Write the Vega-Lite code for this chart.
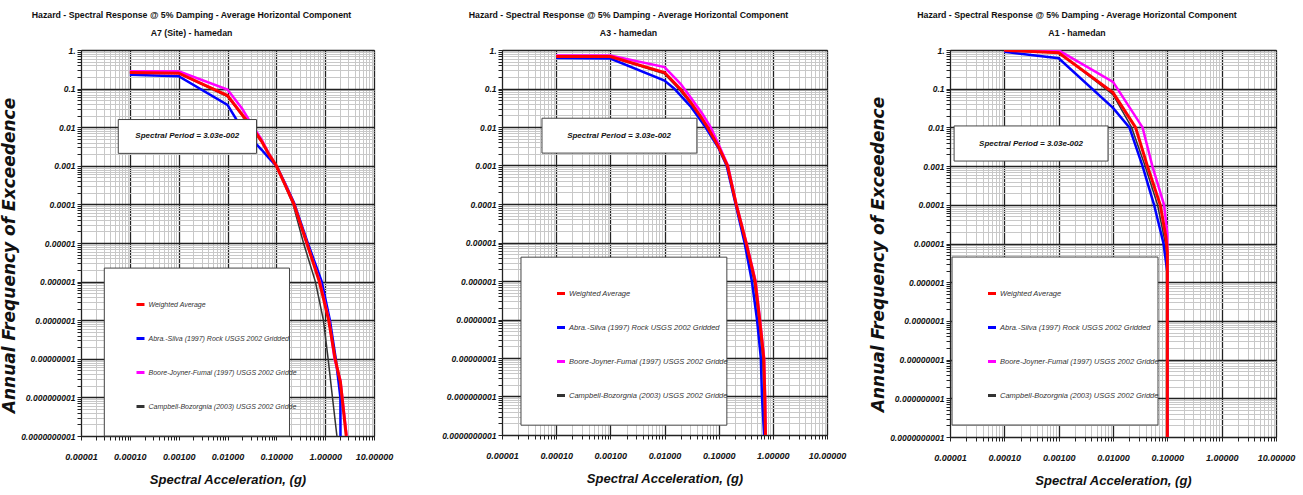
{
"$schema": "https://vega.github.io/schema/vega-lite/v6.json",
"autosize": {"type": "pad"},
"padding": {"left": 0, "top": 10, "right": 0, "bottom": 0},
"background": "white",
"config": {
  "view": {"stroke": "#222", "strokeWidth": 1},
  "axis": {"labelFont": "Liberation Sans", "labelFontSize": 9, "labelFontStyle": "italic", "labelFontWeight": "bold", "labelColor": "#111", "tickColor": "#222", "domainColor": "#222", "tickSize": 4, "labelOverlap": false, "labelFlush": false, "titleColor": "#111"},
  "axisY": {"labelFontSize": 8.5},
  "title": {"font": "Liberation Sans", "fontSize": 8.75, "fontWeight": "bold", "color": "#111", "lineHeight": 18, "offset": 8, "frame": "group", "anchor": "middle", "dx": -36},
  "legend": {"padding": 0, "rowPadding": 21, "symbolType": "stroke", "symbolSize": 64, "symbolStrokeWidth": 3, "symbolOffset": 0, "labelOffset": 2.5, "labelFont": "Liberation Sans", "labelFontSize": 7.5, "labelFontStyle": "italic", "labelColor": "#333", "labelLimit": 300}
},
"datasets": {
  "a7": [
    {"series": "Campbell-Bozorgnia (2003) USGS 2002 Gridded", "sa": 0.0001, "freq": 0.26},
    {"series": "Campbell-Bozorgnia (2003) USGS 2002 Gridded", "sa": 0.001, "freq": 0.25},
    {"series": "Campbell-Bozorgnia (2003) USGS 2002 Gridded", "sa": 0.01, "freq": 0.062},
    {"series": "Campbell-Bozorgnia (2003) USGS 2002 Gridded", "sa": 0.02, "freq": 0.02},
    {"series": "Campbell-Bozorgnia (2003) USGS 2002 Gridded", "sa": 0.03, "freq": 0.01},
    {"series": "Campbell-Bozorgnia (2003) USGS 2002 Gridded", "sa": 0.05, "freq": 0.0042},
    {"series": "Campbell-Bozorgnia (2003) USGS 2002 Gridded", "sa": 0.07, "freq": 0.002},
    {"series": "Campbell-Bozorgnia (2003) USGS 2002 Gridded", "sa": 0.1, "freq": 0.001},
    {"series": "Campbell-Bozorgnia (2003) USGS 2002 Gridded", "sa": 0.15, "freq": 0.0003},
    {"series": "Campbell-Bozorgnia (2003) USGS 2002 Gridded", "sa": 0.22, "freq": 0.0001},
    {"series": "Campbell-Bozorgnia (2003) USGS 2002 Gridded", "sa": 0.36, "freq": 1e-5},
    {"series": "Campbell-Bozorgnia (2003) USGS 2002 Gridded", "sa": 0.63, "freq": 1e-6},
    {"series": "Campbell-Bozorgnia (2003) USGS 2002 Gridded", "sa": 0.92, "freq": 1e-7},
    {"series": "Campbell-Bozorgnia (2003) USGS 2002 Gridded", "sa": 1.15, "freq": 1e-8},
    {"series": "Campbell-Bozorgnia (2003) USGS 2002 Gridded", "sa": 1.41, "freq": 1e-9},
    {"series": "Campbell-Bozorgnia (2003) USGS 2002 Gridded", "sa": 1.74, "freq": 1e-10},
    {"series": "Abra.-Silva (1997) Rock USGS 2002 Gridded", "sa": 0.0001, "freq": 0.23},
    {"series": "Abra.-Silva (1997) Rock USGS 2002 Gridded", "sa": 0.001, "freq": 0.21},
    {"series": "Abra.-Silva (1997) Rock USGS 2002 Gridded", "sa": 0.01, "freq": 0.038},
    {"series": "Abra.-Silva (1997) Rock USGS 2002 Gridded", "sa": 0.019, "freq": 0.01},
    {"series": "Abra.-Silva (1997) Rock USGS 2002 Gridded", "sa": 0.03, "freq": 0.0052},
    {"series": "Abra.-Silva (1997) Rock USGS 2002 Gridded", "sa": 0.05, "freq": 0.0026},
    {"series": "Abra.-Silva (1997) Rock USGS 2002 Gridded", "sa": 0.07, "freq": 0.0016},
    {"series": "Abra.-Silva (1997) Rock USGS 2002 Gridded", "sa": 0.1, "freq": 0.001},
    {"series": "Abra.-Silva (1997) Rock USGS 2002 Gridded", "sa": 0.15, "freq": 0.00036},
    {"series": "Abra.-Silva (1997) Rock USGS 2002 Gridded", "sa": 0.23, "freq": 0.00011},
    {"series": "Abra.-Silva (1997) Rock USGS 2002 Gridded", "sa": 0.44, "freq": 1e-5},
    {"series": "Abra.-Silva (1997) Rock USGS 2002 Gridded", "sa": 0.85, "freq": 1e-6},
    {"series": "Abra.-Silva (1997) Rock USGS 2002 Gridded", "sa": 1.25, "freq": 1e-7},
    {"series": "Abra.-Silva (1997) Rock USGS 2002 Gridded", "sa": 1.65, "freq": 1e-8},
    {"series": "Abra.-Silva (1997) Rock USGS 2002 Gridded", "sa": 2.05, "freq": 1e-9},
    {"series": "Abra.-Silva (1997) Rock USGS 2002 Gridded", "sa": 2.06, "freq": 1e-10},
    {"series": "Boore-Joyner-Fumal (1997) USGS 2002 Gridded", "sa": 0.0001, "freq": 0.28},
    {"series": "Boore-Joyner-Fumal (1997) USGS 2002 Gridded", "sa": 0.001, "freq": 0.28},
    {"series": "Boore-Joyner-Fumal (1997) USGS 2002 Gridded", "sa": 0.01, "freq": 0.095},
    {"series": "Boore-Joyner-Fumal (1997) USGS 2002 Gridded", "sa": 0.02, "freq": 0.03},
    {"series": "Boore-Joyner-Fumal (1997) USGS 2002 Gridded", "sa": 0.03, "freq": 0.013},
    {"series": "Boore-Joyner-Fumal (1997) USGS 2002 Gridded", "sa": 0.05, "freq": 0.0048},
    {"series": "Boore-Joyner-Fumal (1997) USGS 2002 Gridded", "sa": 0.07, "freq": 0.0021},
    {"series": "Boore-Joyner-Fumal (1997) USGS 2002 Gridded", "sa": 0.1, "freq": 0.001},
    {"series": "Boore-Joyner-Fumal (1997) USGS 2002 Gridded", "sa": 0.15, "freq": 0.00034},
    {"series": "Boore-Joyner-Fumal (1997) USGS 2002 Gridded", "sa": 0.23, "freq": 0.0001},
    {"series": "Boore-Joyner-Fumal (1997) USGS 2002 Gridded", "sa": 0.42, "freq": 1e-5},
    {"series": "Boore-Joyner-Fumal (1997) USGS 2002 Gridded", "sa": 0.78, "freq": 1e-6},
    {"series": "Boore-Joyner-Fumal (1997) USGS 2002 Gridded", "sa": 1.2, "freq": 1e-7},
    {"series": "Boore-Joyner-Fumal (1997) USGS 2002 Gridded", "sa": 1.55, "freq": 1e-8},
    {"series": "Boore-Joyner-Fumal (1997) USGS 2002 Gridded", "sa": 2.05, "freq": 2.8e-9},
    {"series": "Boore-Joyner-Fumal (1997) USGS 2002 Gridded", "sa": 2.75, "freq": 1e-10},
    {"series": "Weighted Average", "sa": 0.0001, "freq": 0.26},
    {"series": "Weighted Average", "sa": 0.001, "freq": 0.25},
    {"series": "Weighted Average", "sa": 0.01, "freq": 0.066},
    {"series": "Weighted Average", "sa": 0.02, "freq": 0.021},
    {"series": "Weighted Average", "sa": 0.03, "freq": 0.011},
    {"series": "Weighted Average", "sa": 0.05, "freq": 0.0043},
    {"series": "Weighted Average", "sa": 0.07, "freq": 0.002},
    {"series": "Weighted Average", "sa": 0.1, "freq": 0.001},
    {"series": "Weighted Average", "sa": 0.15, "freq": 0.00033},
    {"series": "Weighted Average", "sa": 0.23, "freq": 0.0001},
    {"series": "Weighted Average", "sa": 0.42, "freq": 1e-5},
    {"series": "Weighted Average", "sa": 0.76, "freq": 1e-6},
    {"series": "Weighted Average", "sa": 1.18, "freq": 1e-7},
    {"series": "Weighted Average", "sa": 1.6, "freq": 1e-8},
    {"series": "Weighted Average", "sa": 2.05, "freq": 2.5e-9},
    {"series": "Weighted Average", "sa": 2.7, "freq": 1e-10}
  ],
  "a3": [
    {"series": "Campbell-Bozorgnia (2003) USGS 2002 Gridded", "sa": 0.0001, "freq": 0.68},
    {"series": "Campbell-Bozorgnia (2003) USGS 2002 Gridded", "sa": 0.001, "freq": 0.67},
    {"series": "Campbell-Bozorgnia (2003) USGS 2002 Gridded", "sa": 0.01, "freq": 0.24},
    {"series": "Campbell-Bozorgnia (2003) USGS 2002 Gridded", "sa": 0.018, "freq": 0.1},
    {"series": "Campbell-Bozorgnia (2003) USGS 2002 Gridded", "sa": 0.03, "freq": 0.042},
    {"series": "Campbell-Bozorgnia (2003) USGS 2002 Gridded", "sa": 0.06, "freq": 0.01},
    {"series": "Campbell-Bozorgnia (2003) USGS 2002 Gridded", "sa": 0.1, "freq": 0.003},
    {"series": "Campbell-Bozorgnia (2003) USGS 2002 Gridded", "sa": 0.142, "freq": 0.001},
    {"series": "Campbell-Bozorgnia (2003) USGS 2002 Gridded", "sa": 0.207, "freq": 0.0001},
    {"series": "Campbell-Bozorgnia (2003) USGS 2002 Gridded", "sa": 0.31, "freq": 1e-5},
    {"series": "Campbell-Bozorgnia (2003) USGS 2002 Gridded", "sa": 0.45, "freq": 1e-6},
    {"series": "Campbell-Bozorgnia (2003) USGS 2002 Gridded", "sa": 0.55, "freq": 1e-7},
    {"series": "Campbell-Bozorgnia (2003) USGS 2002 Gridded", "sa": 0.65, "freq": 1e-8},
    {"series": "Campbell-Bozorgnia (2003) USGS 2002 Gridded", "sa": 0.69, "freq": 1e-9},
    {"series": "Campbell-Bozorgnia (2003) USGS 2002 Gridded", "sa": 0.71, "freq": 1e-10},
    {"series": "Abra.-Silva (1997) Rock USGS 2002 Gridded", "sa": 0.0001, "freq": 0.62},
    {"series": "Abra.-Silva (1997) Rock USGS 2002 Gridded", "sa": 0.001, "freq": 0.6},
    {"series": "Abra.-Silva (1997) Rock USGS 2002 Gridded", "sa": 0.01, "freq": 0.16},
    {"series": "Abra.-Silva (1997) Rock USGS 2002 Gridded", "sa": 0.015, "freq": 0.1},
    {"series": "Abra.-Silva (1997) Rock USGS 2002 Gridded", "sa": 0.03, "freq": 0.035},
    {"series": "Abra.-Silva (1997) Rock USGS 2002 Gridded", "sa": 0.057, "freq": 0.01},
    {"series": "Abra.-Silva (1997) Rock USGS 2002 Gridded", "sa": 0.1, "freq": 0.0028},
    {"series": "Abra.-Silva (1997) Rock USGS 2002 Gridded", "sa": 0.14, "freq": 0.001},
    {"series": "Abra.-Silva (1997) Rock USGS 2002 Gridded", "sa": 0.205, "freq": 0.0001},
    {"series": "Abra.-Silva (1997) Rock USGS 2002 Gridded", "sa": 0.3, "freq": 1e-5},
    {"series": "Abra.-Silva (1997) Rock USGS 2002 Gridded", "sa": 0.41, "freq": 1e-6},
    {"series": "Abra.-Silva (1997) Rock USGS 2002 Gridded", "sa": 0.51, "freq": 1e-7},
    {"series": "Abra.-Silva (1997) Rock USGS 2002 Gridded", "sa": 0.6, "freq": 1e-8},
    {"series": "Abra.-Silva (1997) Rock USGS 2002 Gridded", "sa": 0.63, "freq": 1e-9},
    {"series": "Abra.-Silva (1997) Rock USGS 2002 Gridded", "sa": 0.69, "freq": 1e-10},
    {"series": "Boore-Joyner-Fumal (1997) USGS 2002 Gridded", "sa": 0.0001, "freq": 0.72},
    {"series": "Boore-Joyner-Fumal (1997) USGS 2002 Gridded", "sa": 0.001, "freq": 0.72},
    {"series": "Boore-Joyner-Fumal (1997) USGS 2002 Gridded", "sa": 0.01, "freq": 0.36},
    {"series": "Boore-Joyner-Fumal (1997) USGS 2002 Gridded", "sa": 0.02, "freq": 0.13},
    {"series": "Boore-Joyner-Fumal (1997) USGS 2002 Gridded", "sa": 0.03, "freq": 0.06},
    {"series": "Boore-Joyner-Fumal (1997) USGS 2002 Gridded", "sa": 0.05, "freq": 0.022},
    {"series": "Boore-Joyner-Fumal (1997) USGS 2002 Gridded", "sa": 0.071, "freq": 0.01},
    {"series": "Boore-Joyner-Fumal (1997) USGS 2002 Gridded", "sa": 0.1, "freq": 0.0035},
    {"series": "Boore-Joyner-Fumal (1997) USGS 2002 Gridded", "sa": 0.148, "freq": 0.001},
    {"series": "Boore-Joyner-Fumal (1997) USGS 2002 Gridded", "sa": 0.212, "freq": 0.0001},
    {"series": "Boore-Joyner-Fumal (1997) USGS 2002 Gridded", "sa": 0.325, "freq": 1e-5},
    {"series": "Boore-Joyner-Fumal (1997) USGS 2002 Gridded", "sa": 0.48, "freq": 1e-6},
    {"series": "Boore-Joyner-Fumal (1997) USGS 2002 Gridded", "sa": 0.58, "freq": 1e-7},
    {"series": "Boore-Joyner-Fumal (1997) USGS 2002 Gridded", "sa": 0.69, "freq": 1e-8},
    {"series": "Boore-Joyner-Fumal (1997) USGS 2002 Gridded", "sa": 0.72, "freq": 1e-9},
    {"series": "Boore-Joyner-Fumal (1997) USGS 2002 Gridded", "sa": 0.74, "freq": 1e-10},
    {"series": "Weighted Average", "sa": 0.0001, "freq": 0.68},
    {"series": "Weighted Average", "sa": 0.001, "freq": 0.68},
    {"series": "Weighted Average", "sa": 0.01, "freq": 0.26},
    {"series": "Weighted Average", "sa": 0.02, "freq": 0.095},
    {"series": "Weighted Average", "sa": 0.03, "freq": 0.045},
    {"series": "Weighted Average", "sa": 0.045, "freq": 0.02},
    {"series": "Weighted Average", "sa": 0.062, "freq": 0.01},
    {"series": "Weighted Average", "sa": 0.1, "freq": 0.003},
    {"series": "Weighted Average", "sa": 0.145, "freq": 0.001},
    {"series": "Weighted Average", "sa": 0.21, "freq": 0.0001},
    {"series": "Weighted Average", "sa": 0.32, "freq": 1e-5},
    {"series": "Weighted Average", "sa": 0.47, "freq": 1e-6},
    {"series": "Weighted Average", "sa": 0.57, "freq": 1e-7},
    {"series": "Weighted Average", "sa": 0.68, "freq": 1e-8},
    {"series": "Weighted Average", "sa": 0.71, "freq": 1e-9},
    {"series": "Weighted Average", "sa": 0.73, "freq": 1e-10}
  ],
  "a1": [
    {"series": "Campbell-Bozorgnia (2003) USGS 2002 Gridded", "sa": 0.0001, "freq": 0.95},
    {"series": "Campbell-Bozorgnia (2003) USGS 2002 Gridded", "sa": 0.001, "freq": 0.88},
    {"series": "Campbell-Bozorgnia (2003) USGS 2002 Gridded", "sa": 0.01, "freq": 0.07},
    {"series": "Campbell-Bozorgnia (2003) USGS 2002 Gridded", "sa": 0.022, "freq": 0.01},
    {"series": "Campbell-Bozorgnia (2003) USGS 2002 Gridded", "sa": 0.039, "freq": 0.001},
    {"series": "Campbell-Bozorgnia (2003) USGS 2002 Gridded", "sa": 0.066, "freq": 0.0001},
    {"series": "Campbell-Bozorgnia (2003) USGS 2002 Gridded", "sa": 0.092, "freq": 1e-5},
    {"series": "Campbell-Bozorgnia (2003) USGS 2002 Gridded", "sa": 0.1, "freq": 4e-6},
    {"series": "Campbell-Bozorgnia (2003) USGS 2002 Gridded", "sa": 0.1, "freq": 1e-10},
    {"series": "Abra.-Silva (1997) Rock USGS 2002 Gridded", "sa": 0.0001, "freq": 0.9},
    {"series": "Abra.-Silva (1997) Rock USGS 2002 Gridded", "sa": 0.001, "freq": 0.61},
    {"series": "Abra.-Silva (1997) Rock USGS 2002 Gridded", "sa": 0.01, "freq": 0.032},
    {"series": "Abra.-Silva (1997) Rock USGS 2002 Gridded", "sa": 0.02, "freq": 0.01},
    {"series": "Abra.-Silva (1997) Rock USGS 2002 Gridded", "sa": 0.035, "freq": 0.001},
    {"series": "Abra.-Silva (1997) Rock USGS 2002 Gridded", "sa": 0.057, "freq": 0.0001},
    {"series": "Abra.-Silva (1997) Rock USGS 2002 Gridded", "sa": 0.085, "freq": 1e-5},
    {"series": "Abra.-Silva (1997) Rock USGS 2002 Gridded", "sa": 0.1, "freq": 1.8e-6},
    {"series": "Abra.-Silva (1997) Rock USGS 2002 Gridded", "sa": 0.1, "freq": 1e-10},
    {"series": "Boore-Joyner-Fumal (1997) USGS 2002 Gridded", "sa": 0.0001, "freq": 1.0},
    {"series": "Boore-Joyner-Fumal (1997) USGS 2002 Gridded", "sa": 0.001, "freq": 0.98},
    {"series": "Boore-Joyner-Fumal (1997) USGS 2002 Gridded", "sa": 0.01, "freq": 0.15},
    {"series": "Boore-Joyner-Fumal (1997) USGS 2002 Gridded", "sa": 0.035, "freq": 0.01},
    {"series": "Boore-Joyner-Fumal (1997) USGS 2002 Gridded", "sa": 0.053, "freq": 0.001},
    {"series": "Boore-Joyner-Fumal (1997) USGS 2002 Gridded", "sa": 0.087, "freq": 0.0001},
    {"series": "Boore-Joyner-Fumal (1997) USGS 2002 Gridded", "sa": 0.1, "freq": 1.8e-5},
    {"series": "Boore-Joyner-Fumal (1997) USGS 2002 Gridded", "sa": 0.1, "freq": 1e-10},
    {"series": "Weighted Average", "sa": 0.0001, "freq": 0.98},
    {"series": "Weighted Average", "sa": 0.001, "freq": 0.85},
    {"series": "Weighted Average", "sa": 0.01, "freq": 0.079},
    {"series": "Weighted Average", "sa": 0.026, "freq": 0.01},
    {"series": "Weighted Average", "sa": 0.043, "freq": 0.001},
    {"series": "Weighted Average", "sa": 0.074, "freq": 0.0001},
    {"series": "Weighted Average", "sa": 0.094, "freq": 1.5e-5},
    {"series": "Weighted Average", "sa": 0.1, "freq": 6e-6},
    {"series": "Weighted Average", "sa": 0.1, "freq": 1e-10}
  ]
},
"bounds": "flush",
"spacing": 128,
"resolve": {"scale": {"color": "independent"}, "legend": {"color": "independent"}},
"hconcat": [
  {
    "width": 293, "height": 386,
    "title": {"text": ["Hazard - Spectral Response @ 5% Damping - Average Horizontal Component", "A7 (Site) - hamedan"]},
    "layer": [
      {
        "data": {"name": "a7"},
        "encoding": {
          "x": {"field": "sa", "type": "quantitative", "scale": {"type": "log", "domain": [1e-5, 10], "nice": false},
            "axis": {"values": [1e-5,2e-5,3e-5,4e-5,5e-5,6e-5,7e-5,8e-5,9e-5,1e-4,2e-4,3e-4,4e-4,5e-4,6e-4,7e-4,8e-4,9e-4,0.001,0.002,0.003,0.004,0.005,0.006,0.007,0.008,0.009,0.01,0.02,0.03,0.04,0.05,0.06,0.07,0.08,0.09,0.1,0.2,0.3,0.4,0.5,0.6,0.7,0.8,0.9,1,2,3,4,5,6,7,8,9,10],
              "labelExpr": "abs(log(datum.value)/LN10-round(log(datum.value)/LN10))<0.001 ? format(datum.value,'.5f') : ''",
              "grid": true,
              "gridColor": {"condition": {"test": "abs(log(datum.value)/LN10-round(log(datum.value)/LN10))<0.001", "value": "#222"}, "value": "#c8c8c8"},
              "gridWidth": {"condition": {"test": "abs(log(datum.value)/LN10-round(log(datum.value)/LN10))<0.001", "value": 1.3}, "value": 1},
              "labelPadding": 12,
              "title": "Spectral Acceleration, (g)", "titleFont": "Liberation Sans", "titleFontSize": 13, "titleFontStyle": "italic", "titleFontWeight": "bold", "titlePadding": 12}},
          "y": {"field": "freq", "type": "quantitative", "scale": {"type": "log", "domain": [1e-10, 1], "nice": false},
            "axis": {"values": [1e-10,2e-10,3e-10,4e-10,5e-10,6e-10,7e-10,8e-10,9e-10,1e-9,2e-9,3e-9,4e-9,5e-9,6e-9,7e-9,8e-9,9e-9,1e-8,2e-8,3e-8,4e-8,5e-8,6e-8,7e-8,8e-8,9e-8,1e-7,2e-7,3e-7,4e-7,5e-7,6e-7,7e-7,8e-7,9e-7,1e-6,2e-6,3e-6,4e-6,5e-6,6e-6,7e-6,8e-6,9e-6,1e-5,2e-5,3e-5,4e-5,5e-5,6e-5,7e-5,8e-5,9e-5,1e-4,2e-4,3e-4,4e-4,5e-4,6e-4,7e-4,8e-4,9e-4,0.001,0.002,0.003,0.004,0.005,0.006,0.007,0.008,0.009,0.01,0.02,0.03,0.04,0.05,0.06,0.07,0.08,0.09,0.1,0.2,0.3,0.4,0.5,0.6,0.7,0.8,0.9,1],
              "labelExpr": "abs(log(datum.value)/LN10-round(log(datum.value)/LN10))<0.001 ? (datum.value >= 1 ? '1.' : format(datum.value,'.10~f')) : ''",
              "grid": true,
              "gridColor": {"condition": {"test": "abs(log(datum.value)/LN10-round(log(datum.value)/LN10))<0.001", "value": "#222"}, "value": "#c8c8c8"},
              "gridWidth": {"condition": {"test": "abs(log(datum.value)/LN10-round(log(datum.value)/LN10))<0.001", "value": 1.3}, "value": 1},
              "labelPadding": 2,
              "title": "Annual Frequency of Exceedence", "titleFont": "DejaVu Sans", "titleFontSize": 17, "titleFontStyle": "italic", "titleFontWeight": "bold", "titlePadding": 2, "titleY": 205}},
          "color": {"field": "series", "type": "nominal",
            "scale": {"domain": ["Weighted Average", "Abra.-Silva (1997) Rock USGS 2002 Gridded", "Boore-Joyner-Fumal (1997) USGS 2002 Gridded", "Campbell-Bozorgnia (2003) USGS 2002 Gridded"], "range": ["#ff0000", "#0000ff", "#ff00ff", "#333333"]},
            "legend": {"orient": "none", "legendX": 54, "legendY": 249, "title": null, "labelFontSize": 7, "labelExpr": "slice(datum.label, 0, 42)"}},
          "order": {"value": null}
        },
        "layer": [
          {"transform": [{"filter": {"field": "series", "equal": "Campbell-Bozorgnia (2003) USGS 2002 Gridded"}}], "mark": {"type": "line", "strokeWidth": 1.5, "clip": true}},
          {"transform": [{"filter": {"field": "series", "equal": "Abra.-Silva (1997) Rock USGS 2002 Gridded"}}], "mark": {"type": "line", "strokeWidth": 2.5, "clip": true}},
          {"transform": [{"filter": {"field": "series", "equal": "Boore-Joyner-Fumal (1997) USGS 2002 Gridded"}}], "mark": {"type": "line", "strokeWidth": 2.5, "clip": true}},
          {"transform": [{"filter": {"field": "series", "equal": "Weighted Average"}}], "mark": {"type": "line", "strokeWidth": 3, "clip": true}}
        ]
      },
      {
        "data": {"values": [{}]},
        "mark": {"type": "rect", "fill": "white", "stroke": "#444", "strokeWidth": 1},
        "encoding": {"x": {"datum": 5.8e-5, "type": "quantitative"}, "x2": {"datum": 0.0393}, "y": {"datum": 0.0158, "type": "quantitative"}, "y2": {"datum": 0.0021}}
      },
      {
        "data": {"values": [{}]},
        "mark": {"type": "text", "text": "Spectral Period = 3.03e-002", "font": "Liberation Sans", "fontSize": 8, "fontStyle": "italic", "fontWeight": "bold", "color": "#111"},
        "encoding": {"x": {"datum": 0.0015, "type": "quantitative"}, "y": {"datum": 0.0058, "type": "quantitative"}}
      },
      {
        "data": {"values": [{}]},
        "mark": {"type": "rect", "fill": "white", "stroke": "#444", "strokeWidth": 1},
        "encoding": {"x": {"datum": 3.0e-5, "type": "quantitative"}, "x2": {"datum": 0.186}, "y": {"datum": 2.24e-6, "type": "quantitative"}, "y2": {"datum": 1e-10}}
      }
    ]
  },
  {
    "bounds": "flush",
    "spacing": 123,
    "resolve": {"scale": {"color": "independent"}, "legend": {"color": "independent"}},
    "hconcat": [
      {
        "width": 325, "height": 385,
        "title": {"text": ["Hazard - Spectral Response @ 5% Damping - Average Horizontal Component", "A3 - hamedan"]},
        "layer": [
          {
            "data": {"name": "a3"},
            "encoding": {
              "x": {"field": "sa", "type": "quantitative", "scale": {"type": "log", "domain": [1e-5, 10], "nice": false},
                "axis": {"values": [1e-5,2e-5,3e-5,4e-5,5e-5,6e-5,7e-5,8e-5,9e-5,1e-4,2e-4,3e-4,4e-4,5e-4,6e-4,7e-4,8e-4,9e-4,0.001,0.002,0.003,0.004,0.005,0.006,0.007,0.008,0.009,0.01,0.02,0.03,0.04,0.05,0.06,0.07,0.08,0.09,0.1,0.2,0.3,0.4,0.5,0.6,0.7,0.8,0.9,1,2,3,4,5,6,7,8,9,10],
                  "labelExpr": "abs(log(datum.value)/LN10-round(log(datum.value)/LN10))<0.001 ? format(datum.value,'.5f') : ''",
                  "grid": true,
                  "gridColor": {"condition": {"test": "abs(log(datum.value)/LN10-round(log(datum.value)/LN10))<0.001", "value": "#222"}, "value": "#c8c8c8"},
                  "gridWidth": {"condition": {"test": "abs(log(datum.value)/LN10-round(log(datum.value)/LN10))<0.001", "value": 1.3}, "value": 1},
                  "labelPadding": 12,
                  "title": "Spectral Acceleration, (g)", "titleFont": "Liberation Sans", "titleFontSize": 13, "titleFontStyle": "italic", "titleFontWeight": "bold", "titlePadding": 12}},
              "y": {"field": "freq", "type": "quantitative", "scale": {"type": "log", "domain": [1e-10, 1], "nice": false},
                "axis": {"values": [1e-10,2e-10,3e-10,4e-10,5e-10,6e-10,7e-10,8e-10,9e-10,1e-9,2e-9,3e-9,4e-9,5e-9,6e-9,7e-9,8e-9,9e-9,1e-8,2e-8,3e-8,4e-8,5e-8,6e-8,7e-8,8e-8,9e-8,1e-7,2e-7,3e-7,4e-7,5e-7,6e-7,7e-7,8e-7,9e-7,1e-6,2e-6,3e-6,4e-6,5e-6,6e-6,7e-6,8e-6,9e-6,1e-5,2e-5,3e-5,4e-5,5e-5,6e-5,7e-5,8e-5,9e-5,1e-4,2e-4,3e-4,4e-4,5e-4,6e-4,7e-4,8e-4,9e-4,0.001,0.002,0.003,0.004,0.005,0.006,0.007,0.008,0.009,0.01,0.02,0.03,0.04,0.05,0.06,0.07,0.08,0.09,0.1,0.2,0.3,0.4,0.5,0.6,0.7,0.8,0.9,1],
                  "labelExpr": "abs(log(datum.value)/LN10-round(log(datum.value)/LN10))<0.001 ? (datum.value >= 1 ? '1.' : format(datum.value,'.10~f')) : ''",
                  "grid": true,
                  "gridColor": {"condition": {"test": "abs(log(datum.value)/LN10-round(log(datum.value)/LN10))<0.001", "value": "#222"}, "value": "#c8c8c8"},
                  "gridWidth": {"condition": {"test": "abs(log(datum.value)/LN10-round(log(datum.value)/LN10))<0.001", "value": 1.3}, "value": 1},
                  "labelPadding": 2,
                  "title": null}},
              "color": {"field": "series", "type": "nominal",
                "scale": {"domain": ["Weighted Average", "Abra.-Silva (1997) Rock USGS 2002 Gridded", "Boore-Joyner-Fumal (1997) USGS 2002 Gridded", "Campbell-Bozorgnia (2003) USGS 2002 Gridded"], "range": ["#ff0000", "#0000ff", "#ff00ff", "#333333"]},
                "legend": {"orient": "none", "legendX": 53.5, "legendY": 238, "title": null, "labelExpr": "slice(datum.label, 0, 42)"}},
              "order": {"value": null}
            },
            "layer": [
              {"transform": [{"filter": {"field": "series", "equal": "Campbell-Bozorgnia (2003) USGS 2002 Gridded"}}], "mark": {"type": "line", "strokeWidth": 1.5, "clip": true}},
              {"transform": [{"filter": {"field": "series", "equal": "Abra.-Silva (1997) Rock USGS 2002 Gridded"}}], "mark": {"type": "line", "strokeWidth": 2.5, "clip": true}},
              {"transform": [{"filter": {"field": "series", "equal": "Boore-Joyner-Fumal (1997) USGS 2002 Gridded"}}], "mark": {"type": "line", "strokeWidth": 2.5, "clip": true}},
              {"transform": [{"filter": {"field": "series", "equal": "Weighted Average"}}], "mark": {"type": "line", "strokeWidth": 3, "clip": true}}
            ]
          },
          {
            "data": {"values": [{}]},
            "mark": {"type": "rect", "fill": "white", "stroke": "#444", "strokeWidth": 1},
            "encoding": {"x": {"datum": 5.47e-5, "type": "quantitative"}, "x2": {"datum": 0.0396}, "y": {"datum": 0.0169, "type": "quantitative"}, "y2": {"datum": 0.0021}}
          },
          {
            "data": {"values": [{}]},
            "mark": {"type": "text", "text": "Spectral Period = 3.03e-002", "font": "Liberation Sans", "fontSize": 8, "fontStyle": "italic", "fontWeight": "bold", "color": "#111"},
            "encoding": {"x": {"datum": 0.00145, "type": "quantitative"}, "y": {"datum": 0.0059, "type": "quantitative"}}
          },
          {
            "data": {"values": [{}]},
            "mark": {"type": "rect", "fill": "white", "stroke": "#444", "strokeWidth": 1},
            "encoding": {"x": {"datum": 2.24e-5, "type": "quantitative"}, "x2": {"datum": 0.1416}, "y": {"datum": 4.16e-6, "type": "quantitative"}, "y2": {"datum": 1.8e-10}}
          }
        ]
      },
      {
        "width": 326, "height": 387,
        "title": {"text": ["Hazard - Spectral Response @ 5% Damping - Average Horizontal Component", "A1 - hamedan"]},
        "layer": [
          {
            "data": {"name": "a1"},
            "encoding": {
              "x": {"field": "sa", "type": "quantitative", "scale": {"type": "log", "domain": [1e-5, 10], "nice": false},
                "axis": {"values": [1e-5,2e-5,3e-5,4e-5,5e-5,6e-5,7e-5,8e-5,9e-5,1e-4,2e-4,3e-4,4e-4,5e-4,6e-4,7e-4,8e-4,9e-4,0.001,0.002,0.003,0.004,0.005,0.006,0.007,0.008,0.009,0.01,0.02,0.03,0.04,0.05,0.06,0.07,0.08,0.09,0.1,0.2,0.3,0.4,0.5,0.6,0.7,0.8,0.9,1,2,3,4,5,6,7,8,9,10],
                  "labelExpr": "abs(log(datum.value)/LN10-round(log(datum.value)/LN10))<0.001 ? format(datum.value,'.5f') : ''",
                  "grid": true,
                  "gridColor": {"condition": {"test": "abs(log(datum.value)/LN10-round(log(datum.value)/LN10))<0.001", "value": "#222"}, "value": "#c8c8c8"},
                  "gridWidth": {"condition": {"test": "abs(log(datum.value)/LN10-round(log(datum.value)/LN10))<0.001", "value": 1.3}, "value": 1},
                  "labelPadding": 12,
                  "title": "Spectral Acceleration, (g)", "titleFont": "Liberation Sans", "titleFontSize": 13, "titleFontStyle": "italic", "titleFontWeight": "bold", "titlePadding": 12}},
              "y": {"field": "freq", "type": "quantitative", "scale": {"type": "log", "domain": [1e-10, 1], "nice": false},
                "axis": {"values": [1e-10,2e-10,3e-10,4e-10,5e-10,6e-10,7e-10,8e-10,9e-10,1e-9,2e-9,3e-9,4e-9,5e-9,6e-9,7e-9,8e-9,9e-9,1e-8,2e-8,3e-8,4e-8,5e-8,6e-8,7e-8,8e-8,9e-8,1e-7,2e-7,3e-7,4e-7,5e-7,6e-7,7e-7,8e-7,9e-7,1e-6,2e-6,3e-6,4e-6,5e-6,6e-6,7e-6,8e-6,9e-6,1e-5,2e-5,3e-5,4e-5,5e-5,6e-5,7e-5,8e-5,9e-5,1e-4,2e-4,3e-4,4e-4,5e-4,6e-4,7e-4,8e-4,9e-4,0.001,0.002,0.003,0.004,0.005,0.006,0.007,0.008,0.009,0.01,0.02,0.03,0.04,0.05,0.06,0.07,0.08,0.09,0.1,0.2,0.3,0.4,0.5,0.6,0.7,0.8,0.9,1],
                  "labelExpr": "abs(log(datum.value)/LN10-round(log(datum.value)/LN10))<0.001 ? (datum.value >= 1 ? '1.' : format(datum.value,'.10~f')) : ''",
                  "grid": true,
                  "gridColor": {"condition": {"test": "abs(log(datum.value)/LN10-round(log(datum.value)/LN10))<0.001", "value": "#222"}, "value": "#c8c8c8"},
                  "gridWidth": {"condition": {"test": "abs(log(datum.value)/LN10-round(log(datum.value)/LN10))<0.001", "value": 1.3}, "value": 1},
                  "labelPadding": 2,
                  "title": "Annual Frequency of Exceedence", "titleFont": "DejaVu Sans", "titleFontSize": 17, "titleFontStyle": "italic", "titleFontWeight": "bold", "titlePadding": 2, "titleY": 204}},
              "color": {"field": "series", "type": "nominal",
                "scale": {"domain": ["Weighted Average", "Abra.-Silva (1997) Rock USGS 2002 Gridded", "Boore-Joyner-Fumal (1997) USGS 2002 Gridded", "Campbell-Bozorgnia (2003) USGS 2002 Gridded"], "range": ["#ff0000", "#0000ff", "#ff00ff", "#333333"]},
                "legend": {"orient": "none", "legendX": 36.5, "legendY": 238, "title": null, "labelExpr": "slice(datum.label, 0, 42)"}},
              "order": {"value": null}
            },
            "layer": [
              {"transform": [{"filter": {"field": "series", "equal": "Campbell-Bozorgnia (2003) USGS 2002 Gridded"}}], "mark": {"type": "line", "strokeWidth": 1.5, "clip": true}},
              {"transform": [{"filter": {"field": "series", "equal": "Abra.-Silva (1997) Rock USGS 2002 Gridded"}}], "mark": {"type": "line", "strokeWidth": 2.5, "clip": true}},
              {"transform": [{"filter": {"field": "series", "equal": "Boore-Joyner-Fumal (1997) USGS 2002 Gridded"}}], "mark": {"type": "line", "strokeWidth": 2.5, "clip": true}},
              {"transform": [{"filter": {"field": "series", "equal": "Weighted Average"}}], "mark": {"type": "line", "strokeWidth": 3, "clip": true}}
            ]
          },
          {
            "data": {"values": [{}]},
            "mark": {"type": "rect", "fill": "white", "stroke": "#444", "strokeWidth": 1},
            "encoding": {"x": {"datum": 1.19e-5, "type": "quantitative"}, "x2": {"datum": 0.0081}, "y": {"datum": 0.0109, "type": "quantitative"}, "y2": {"datum": 0.00135}}
          },
          {
            "data": {"values": [{}]},
            "mark": {"type": "text", "text": "Spectral Period = 3.03e-002", "font": "Liberation Sans", "fontSize": 8, "fontStyle": "italic", "fontWeight": "bold", "color": "#111"},
            "encoding": {"x": {"datum": 0.00031, "type": "quantitative"}, "y": {"datum": 0.0038, "type": "quantitative"}}
          },
          {
            "data": {"values": [{}]},
            "mark": {"type": "rect", "fill": "white", "stroke": "#444", "strokeWidth": 1},
            "encoding": {"x": {"datum": 1.09e-5, "type": "quantitative"}, "x2": {"datum": 0.0673}, "y": {"datum": 4.47e-6, "type": "quantitative"}, "y2": {"datum": 2.04e-10}}
          }
        ]
      }
    ]
  }
]
}
